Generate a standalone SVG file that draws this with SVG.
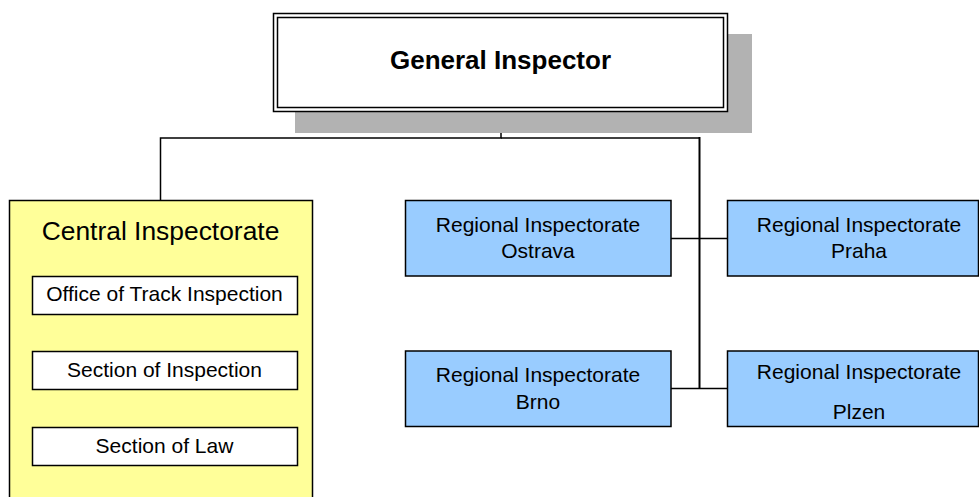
<svg xmlns="http://www.w3.org/2000/svg" width="979" height="497" viewBox="0 0 979 497">
<style>
text { font-family: "Liberation Sans", Arial, sans-serif; fill: #000; text-anchor: middle; }
.box { stroke: #000; stroke-width: 1.5; }
.blue { fill: #99ccff; }
.white { fill: #ffffff; }
.yellow { fill: #ffff99; }
.conn { fill: none; stroke: #000; stroke-width: 1.5; }
.t21 { font-size: 21px; }
</style>
<rect width="979" height="497" fill="#ffffff"/>
<g id="connectors">
<path class="conn" d="M501,108 V138 H160.5 V200"/>
<path class="conn" d="M501,138 H699.5" />
<path class="conn" style="stroke-width:2" d="M699.5,137 V389"/>
<path class="conn" d="M671,238.5 H727.5"/>
<path class="conn" d="M671,388.5 H727.5"/>
</g>
<g id="general-inspector">
<rect x="295" y="34" width="457" height="99" fill="#b2b2b2"/>
<rect class="box white" x="273.5" y="13.5" width="454" height="98"/>
<rect class="box white" x="277.5" y="17.5" width="446" height="90"/>
<text x="500.5" y="69" font-size="26" font-weight="bold">General Inspector</text>
</g>
<g id="central-inspectorate">
<rect class="box yellow" x="9.5" y="200.5" width="303" height="310"/>
<text x="160.5" y="240" font-size="26.4">Central Inspectorate</text>
</g>
<g id="office-track">
<rect class="box white" x="32.5" y="276.5" width="265" height="38"/>
<text class="t21" x="164.5" y="301">Office of Track Inspection</text>
</g>
<g id="section-inspection">
<rect class="box white" x="32.5" y="351.5" width="265" height="38"/>
<text class="t21" x="164.5" y="377">Section of Inspection</text>
</g>
<g id="section-law">
<rect class="box white" x="32.5" y="427.5" width="265" height="38"/>
<text class="t21" x="164.5" y="452.5">Section of Law</text>
</g>
<g id="ri-ostrava">
<rect class="box blue" x="405.5" y="200.5" width="265.5" height="75.5"/>
<text class="t21" x="538" y="232">Regional Inspectorate</text>
<text class="t21" x="538" y="258">Ostrava</text>
</g>
<g id="ri-praha">
<rect class="box blue" x="727.5" y="200.5" width="251" height="75.5"/>
<text class="t21" x="859" y="232">Regional Inspectorate</text>
<text class="t21" x="859" y="258">Praha</text>
</g>
<g id="ri-brno">
<rect class="box blue" x="405.5" y="351" width="265.5" height="75.5"/>
<text class="t21" x="538" y="382">Regional Inspectorate</text>
<text class="t21" x="538" y="409">Brno</text>
</g>
<g id="ri-plzen">
<rect class="box blue" x="727.5" y="351" width="251" height="75.5"/>
<text class="t21" x="859" y="378.5">Regional Inspectorate</text>
<text class="t21" x="859" y="419">Plzen</text>
</g>
</svg>
